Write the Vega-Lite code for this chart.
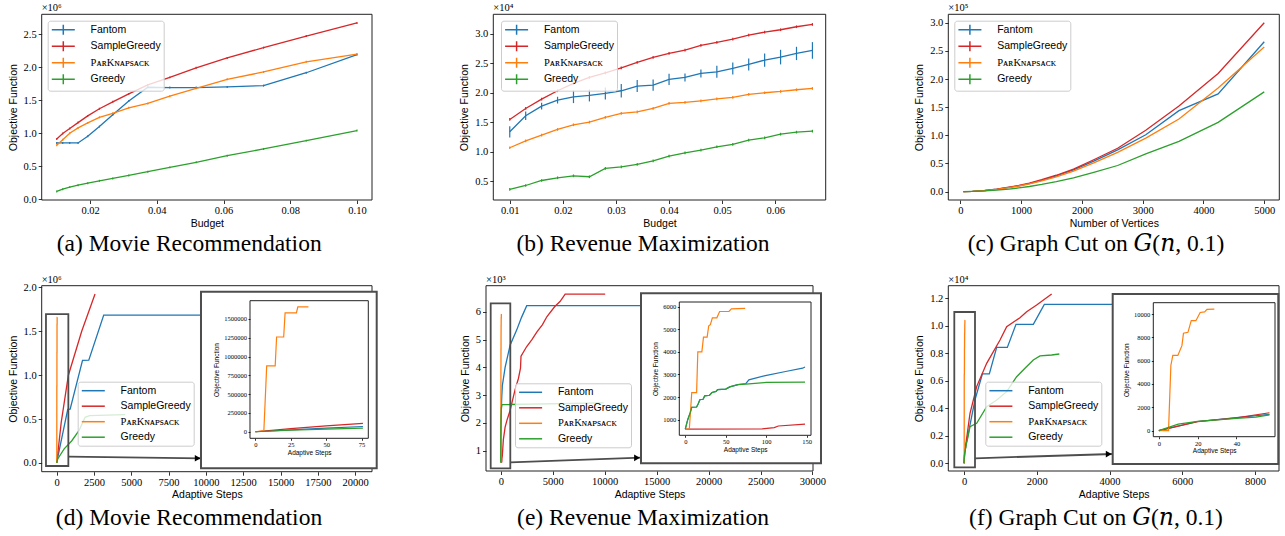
{
"$schema":"https://vega.github.io/schema/vega-lite/v6.json",
"width":1285,"height":536,"autosize":{"type":"none"},"padding":0,
"background":"#ffffff",
"datasets":{
"a":[
{"series":"Fantom","x":0.01,"y":852000,"err":15000},{"series":"Fantom","x":0.0118,"y":852000,"err":15000},{"series":"Fantom","x":0.0139,"y":852000,"err":15000},{"series":"Fantom","x":0.0164,"y":852000,"err":15000},{"series":"Fantom","x":0.0193,"y":953000,"err":15000},{"series":"Fantom","x":0.0228,"y":1100000,"err":15000},{"series":"Fantom","x":0.0268,"y":1278000,"err":15000},{"series":"Fantom","x":0.0316,"y":1486000,"err":15000},{"series":"Fantom","x":0.0373,"y":1695000,"err":15000},{"series":"Fantom","x":0.0439,"y":1690000,"err":15000},{"series":"Fantom","x":0.0518,"y":1690000,"err":15000},{"series":"Fantom","x":0.0611,"y":1700000,"err":15000},{"series":"Fantom","x":0.072,"y":1720000,"err":15000},{"series":"Fantom","x":0.0848,"y":1915000,"err":15000},{"series":"Fantom","x":0.1,"y":2190000,"err":15000},
{"series":"SampleGreedy","x":0.01,"y":913000,"err":15000},{"series":"SampleGreedy","x":0.0118,"y":995000,"err":15000},{"series":"SampleGreedy","x":0.0139,"y":1070000,"err":15000},{"series":"SampleGreedy","x":0.0164,"y":1160000,"err":15000},{"series":"SampleGreedy","x":0.0193,"y":1262000,"err":15000},{"series":"SampleGreedy","x":0.0228,"y":1370000,"err":15000},{"series":"SampleGreedy","x":0.0268,"y":1475000,"err":15000},{"series":"SampleGreedy","x":0.0316,"y":1595000,"err":15000},{"series":"SampleGreedy","x":0.0373,"y":1730000,"err":15000},{"series":"SampleGreedy","x":0.0439,"y":1845000,"err":15000},{"series":"SampleGreedy","x":0.0518,"y":1990000,"err":15000},{"series":"SampleGreedy","x":0.0611,"y":2140000,"err":15000},{"series":"SampleGreedy","x":0.072,"y":2295000,"err":15000},{"series":"SampleGreedy","x":0.0848,"y":2470000,"err":15000},{"series":"SampleGreedy","x":0.1,"y":2670000,"err":15000},
{"series":"PᴀʀKɴᴀᴘsᴀᴄᴋ","x":0.01,"y":816000,"err":15000},{"series":"PᴀʀKɴᴀᴘsᴀᴄᴋ","x":0.0118,"y":900000,"err":15000},{"series":"PᴀʀKɴᴀᴘsᴀᴄᴋ","x":0.0139,"y":1000000,"err":15000},{"series":"PᴀʀKɴᴀᴘsᴀᴄᴋ","x":0.0164,"y":1080000,"err":15000},{"series":"PᴀʀKɴᴀᴘsᴀᴄᴋ","x":0.0193,"y":1156000,"err":15000},{"series":"PᴀʀKɴᴀᴘsᴀᴄᴋ","x":0.0228,"y":1240000,"err":15000},{"series":"PᴀʀKɴᴀᴘsᴀᴄᴋ","x":0.0268,"y":1300000,"err":15000},{"series":"PᴀʀKɴᴀᴘsᴀᴄᴋ","x":0.0316,"y":1384000,"err":15000},{"series":"PᴀʀKɴᴀᴘsᴀᴄᴋ","x":0.0373,"y":1450000,"err":15000},{"series":"PᴀʀKɴᴀᴘsᴀᴄᴋ","x":0.0439,"y":1560000,"err":15000},{"series":"PᴀʀKɴᴀᴘsᴀᴄᴋ","x":0.0518,"y":1680000,"err":15000},{"series":"PᴀʀKɴᴀᴘsᴀᴄᴋ","x":0.0611,"y":1815000,"err":15000},{"series":"PᴀʀKɴᴀᴘsᴀᴄᴋ","x":0.072,"y":1927000,"err":15000},{"series":"PᴀʀKɴᴀᴘsᴀᴄᴋ","x":0.0848,"y":2080000,"err":15000},{"series":"PᴀʀKɴᴀᴘsᴀᴄᴋ","x":0.1,"y":2196000,"err":15000},
{"series":"Greedy","x":0.01,"y":117000,"err":15000},{"series":"Greedy","x":0.0118,"y":152000,"err":15000},{"series":"Greedy","x":0.0139,"y":183000,"err":15000},{"series":"Greedy","x":0.0164,"y":213000,"err":15000},{"series":"Greedy","x":0.0193,"y":243000,"err":15000},{"series":"Greedy","x":0.0228,"y":279000,"err":15000},{"series":"Greedy","x":0.0268,"y":314000,"err":15000},{"series":"Greedy","x":0.0316,"y":360000,"err":15000},{"series":"Greedy","x":0.0373,"y":416000,"err":15000},{"series":"Greedy","x":0.0439,"y":482000,"err":15000},{"series":"Greedy","x":0.0518,"y":558000,"err":15000},{"series":"Greedy","x":0.0611,"y":659000,"err":15000},{"series":"Greedy","x":0.072,"y":761000,"err":15000},{"series":"Greedy","x":0.0848,"y":887000,"err":15000},{"series":"Greedy","x":0.1,"y":1040000,"err":15000}
],
"b":[
{"series":"Fantom","x":0.010,"y":13370,"err":960},{"series":"Fantom","x":0.013,"y":16090,"err":740},{"series":"Fantom","x":0.016,"y":17730,"err":570},{"series":"Fantom","x":0.019,"y":18740,"err":570},{"series":"Fantom","x":0.022,"y":19310,"err":1070},{"series":"Fantom","x":0.025,"y":19540,"err":1020},{"series":"Fantom","x":0.028,"y":19880,"err":1020},{"series":"Fantom","x":0.031,"y":20330,"err":1130},{"series":"Fantom","x":0.034,"y":21120,"err":1020},{"series":"Fantom","x":0.037,"y":21290,"err":960},{"series":"Fantom","x":0.040,"y":22250,"err":960},{"series":"Fantom","x":0.043,"y":22590,"err":680},{"series":"Fantom","x":0.046,"y":23270,"err":680},{"series":"Fantom","x":0.049,"y":23550,"err":1020},{"series":"Fantom","x":0.052,"y":24120,"err":1020},{"series":"Fantom","x":0.055,"y":24800,"err":1020},{"series":"Fantom","x":0.058,"y":25530,"err":1130},{"series":"Fantom","x":0.061,"y":26040,"err":1240},{"series":"Fantom","x":0.064,"y":26660,"err":1130},{"series":"Fantom","x":0.067,"y":27170,"err":1410},
{"series":"SampleGreedy","x":0.010,"y":15460,"err":230},{"series":"SampleGreedy","x":0.013,"y":17330,"err":230},{"series":"SampleGreedy","x":0.016,"y":18910,"err":230},{"series":"SampleGreedy","x":0.019,"y":20330,"err":230},{"series":"SampleGreedy","x":0.022,"y":21570,"err":230},{"series":"SampleGreedy","x":0.025,"y":22590,"err":230},{"series":"SampleGreedy","x":0.028,"y":23380,"err":230},{"series":"SampleGreedy","x":0.031,"y":24230,"err":230},{"series":"SampleGreedy","x":0.034,"y":25140,"err":230},{"series":"SampleGreedy","x":0.037,"y":25980,"err":230},{"series":"SampleGreedy","x":0.040,"y":26660,"err":230},{"series":"SampleGreedy","x":0.043,"y":27230,"err":230},{"series":"SampleGreedy","x":0.046,"y":28020,"err":230},{"series":"SampleGreedy","x":0.049,"y":28530,"err":230},{"series":"SampleGreedy","x":0.052,"y":29100,"err":230},{"series":"SampleGreedy","x":0.055,"y":29770,"err":230},{"series":"SampleGreedy","x":0.058,"y":30280,"err":230},{"series":"SampleGreedy","x":0.061,"y":30680,"err":230},{"series":"SampleGreedy","x":0.064,"y":31190,"err":230},{"series":"SampleGreedy","x":0.067,"y":31580,"err":230},
{"series":"PᴀʀKɴᴀᴘsᴀᴄᴋ","x":0.010,"y":10660,"err":230},{"series":"PᴀʀKɴᴀᴘsᴀᴄᴋ","x":0.013,"y":11840,"err":230},{"series":"PᴀʀKɴᴀᴘsᴀᴄᴋ","x":0.016,"y":12800,"err":230},{"series":"PᴀʀKɴᴀᴘsᴀᴄᴋ","x":0.019,"y":13770,"err":230},{"series":"PᴀʀKɴᴀᴘsᴀᴄᴋ","x":0.022,"y":14560,"err":230},{"series":"PᴀʀKɴᴀᴘsᴀᴄᴋ","x":0.025,"y":15010,"err":230},{"series":"PᴀʀKɴᴀᴘsᴀᴄᴋ","x":0.028,"y":15800,"err":230},{"series":"PᴀʀKɴᴀᴘsᴀᴄᴋ","x":0.031,"y":16480,"err":230},{"series":"PᴀʀKɴᴀᴘsᴀᴄᴋ","x":0.034,"y":16760,"err":230},{"series":"PᴀʀKɴᴀᴘsᴀᴄᴋ","x":0.037,"y":17330,"err":230},{"series":"PᴀʀKɴᴀᴘsᴀᴄᴋ","x":0.040,"y":18180,"err":230},{"series":"PᴀʀKɴᴀᴘsᴀᴄᴋ","x":0.043,"y":18350,"err":230},{"series":"PᴀʀKɴᴀᴘsᴀᴄᴋ","x":0.046,"y":18630,"err":230},{"series":"PᴀʀKɴᴀᴘsᴀᴄᴋ","x":0.049,"y":18970,"err":230},{"series":"PᴀʀKɴᴀᴘsᴀᴄᴋ","x":0.052,"y":19200,"err":230},{"series":"PᴀʀKɴᴀᴘsᴀᴄᴋ","x":0.055,"y":19710,"err":230},{"series":"PᴀʀKɴᴀᴘsᴀᴄᴋ","x":0.058,"y":19990,"err":230},{"series":"PᴀʀKɴᴀᴘsᴀᴄᴋ","x":0.061,"y":20210,"err":230},{"series":"PᴀʀKɴᴀᴘsᴀᴄᴋ","x":0.064,"y":20500,"err":230},{"series":"PᴀʀKɴᴀᴘsᴀᴄᴋ","x":0.067,"y":20720,"err":230},
{"series":"Greedy","x":0.010,"y":3590,"err":230},{"series":"Greedy","x":0.013,"y":4260,"err":230},{"series":"Greedy","x":0.016,"y":5110,"err":230},{"series":"Greedy","x":0.019,"y":5570,"err":230},{"series":"Greedy","x":0.022,"y":5900,"err":230},{"series":"Greedy","x":0.025,"y":5740,"err":230},{"series":"Greedy","x":0.028,"y":7150,"err":230},{"series":"Greedy","x":0.031,"y":7430,"err":230},{"series":"Greedy","x":0.034,"y":7830,"err":230},{"series":"Greedy","x":0.037,"y":8450,"err":230},{"series":"Greedy","x":0.040,"y":9240,"err":230},{"series":"Greedy","x":0.043,"y":9810,"err":230},{"series":"Greedy","x":0.046,"y":10260,"err":230},{"series":"Greedy","x":0.049,"y":10830,"err":230},{"series":"Greedy","x":0.052,"y":11220,"err":230},{"series":"Greedy","x":0.055,"y":11960,"err":230},{"series":"Greedy","x":0.058,"y":12350,"err":230},{"series":"Greedy","x":0.061,"y":12970,"err":230},{"series":"Greedy","x":0.064,"y":13310,"err":230},{"series":"Greedy","x":0.067,"y":13480,"err":230}
],
"c":[
{"series":"Fantom","x":50,"y":30},{"series":"Fantom","x":200,"y":460},{"series":"Fantom","x":400,"y":1800},{"series":"Fantom","x":600,"y":4100},{"series":"Fantom","x":800,"y":7300},{"series":"Fantom","x":963,"y":10300},{"series":"Fantom","x":1136,"y":14300},{"series":"Fantom","x":1339,"y":20000},{"series":"Fantom","x":1579,"y":27800},{"series":"Fantom","x":1862,"y":38500},{"series":"Fantom","x":2195,"y":54000},{"series":"Fantom","x":2588,"y":74000},{"series":"Fantom","x":3051,"y":101000},{"series":"Fantom","x":3597,"y":143800},{"series":"Fantom","x":4241,"y":173500},{"series":"Fantom","x":5000,"y":266200},
{"series":"SampleGreedy","x":50,"y":30},{"series":"SampleGreedy","x":200,"y":480},{"series":"SampleGreedy","x":400,"y":1900},{"series":"SampleGreedy","x":600,"y":4300},{"series":"SampleGreedy","x":800,"y":7700},{"series":"SampleGreedy","x":963,"y":10800},{"series":"SampleGreedy","x":1136,"y":15000},{"series":"SampleGreedy","x":1339,"y":21000},{"series":"SampleGreedy","x":1579,"y":29000},{"series":"SampleGreedy","x":1862,"y":40000},{"series":"SampleGreedy","x":2195,"y":56500},{"series":"SampleGreedy","x":2588,"y":77000},{"series":"SampleGreedy","x":3051,"y":109000},{"series":"SampleGreedy","x":3597,"y":152000},{"series":"SampleGreedy","x":4241,"y":209700},{"series":"SampleGreedy","x":5000,"y":300000},
{"series":"PᴀʀKɴᴀᴘsᴀᴄᴋ","x":50,"y":30},{"series":"PᴀʀKɴᴀᴘsᴀᴄᴋ","x":200,"y":440},{"series":"PᴀʀKɴᴀᴘsᴀᴄᴋ","x":400,"y":1750},{"series":"PᴀʀKɴᴀᴘsᴀᴄᴋ","x":600,"y":3900},{"series":"PᴀʀKɴᴀᴘsᴀᴄᴋ","x":800,"y":7000},{"series":"PᴀʀKɴᴀᴘsᴀᴄᴋ","x":963,"y":9900},{"series":"PᴀʀKɴᴀᴘsᴀᴄᴋ","x":1136,"y":13700},{"series":"PᴀʀKɴᴀᴘsᴀᴄᴋ","x":1339,"y":19000},{"series":"PᴀʀKɴᴀᴘsᴀᴄᴋ","x":1579,"y":26300},{"series":"PᴀʀKɴᴀᴘsᴀᴄᴋ","x":1862,"y":36500},{"series":"PᴀʀKɴᴀᴘsᴀᴄᴋ","x":2195,"y":51000},{"series":"PᴀʀKɴᴀᴘsᴀᴄᴋ","x":2588,"y":69500},{"series":"PᴀʀKɴᴀᴘsᴀᴄᴋ","x":3051,"y":95000},{"series":"PᴀʀKɴᴀᴘsᴀᴄᴋ","x":3597,"y":129000},{"series":"PᴀʀKɴᴀᴘsᴀᴄᴋ","x":4241,"y":184200},{"series":"PᴀʀKɴᴀᴘsᴀᴄᴋ","x":5000,"y":256700},
{"series":"Greedy","x":50,"y":20},{"series":"Greedy","x":200,"y":280},{"series":"Greedy","x":400,"y":1100},{"series":"Greedy","x":600,"y":2500},{"series":"Greedy","x":800,"y":4500},{"series":"Greedy","x":963,"y":6500},{"series":"Greedy","x":1136,"y":9000},{"series":"Greedy","x":1339,"y":12700},{"series":"Greedy","x":1579,"y":17700},{"series":"Greedy","x":1862,"y":24500},{"series":"Greedy","x":2195,"y":34100},{"series":"Greedy","x":2588,"y":46300},{"series":"Greedy","x":3051,"y":67100},{"series":"Greedy","x":3597,"y":89100},{"series":"Greedy","x":4241,"y":123000},{"series":"Greedy","x":5000,"y":177100}
],
"d":[
{"series":"Fantom","x":0,"y":0},{"series":"Fantom","x":25,"y":25000},{"series":"Fantom","x":50,"y":47000},{"series":"Fantom","x":76,"y":70000},{"series":"Fantom","x":740,"y":610000},{"series":"Fantom","x":900,"y":612000},{"series":"Fantom","x":1730,"y":1170000},{"series":"Fantom","x":2150,"y":1172000},{"series":"Fantom","x":3150,"y":1685000},{"series":"Fantom","x":20124,"y":1685000},
{"series":"SampleGreedy","x":0,"y":0},{"series":"SampleGreedy","x":25,"y":42000},{"series":"SampleGreedy","x":50,"y":78000},{"series":"SampleGreedy","x":76,"y":111000},{"series":"SampleGreedy","x":300,"y":460000},{"series":"SampleGreedy","x":782,"y":1000000},{"series":"SampleGreedy","x":1675,"y":1500000},{"series":"SampleGreedy","x":2569,"y":1925000},
{"series":"PᴀʀKɴᴀᴘsᴀᴄᴋ","x":0,"y":0},{"series":"PᴀʀKɴᴀᴘsᴀᴄᴋ","x":6,"y":15000},{"series":"PᴀʀKɴᴀᴘsᴀᴄᴋ","x":8,"y":875000},{"series":"PᴀʀKɴᴀᴘsᴀᴄᴋ","x":14,"y":875000},{"series":"PᴀʀKɴᴀᴘsᴀᴄᴋ","x":15,"y":1260000},{"series":"PᴀʀKɴᴀᴘsᴀᴄᴋ","x":20,"y":1260000},{"series":"PᴀʀKɴᴀᴘsᴀᴄᴋ","x":21,"y":1580000},{"series":"PᴀʀKɴᴀᴘsᴀᴄᴋ","x":29,"y":1580000},{"series":"PᴀʀKɴᴀᴘsᴀᴄᴋ","x":30,"y":1660000},{"series":"PᴀʀKɴᴀᴘsᴀᴄᴋ","x":37.5,"y":1660000},
{"series":"Greedy","x":0,"y":0},{"series":"Greedy","x":25,"y":20000},{"series":"Greedy","x":50,"y":35000},{"series":"Greedy","x":76,"y":48000},{"series":"Greedy","x":500,"y":160000},{"series":"Greedy","x":1000,"y":250000},{"series":"Greedy","x":1500,"y":370000},{"series":"Greedy","x":1900,"y":520000},{"series":"Greedy","x":2200,"y":540000},{"series":"Greedy","x":4580,"y":550000}
],
"e":[
{"series":"Fantom","x":0,"y":580},{"series":"Fantom","x":3,"y":1000},{"series":"Fantom","x":6,"y":1300},{"series":"Fantom","x":8,"y":1550},{"series":"Fantom","x":14,"y":1560},{"series":"Fantom","x":16,"y":1700},{"series":"Fantom","x":18,"y":1880},{"series":"Fantom","x":22,"y":1900},{"series":"Fantom","x":24,"y":2050},{"series":"Fantom","x":30,"y":2080},{"series":"Fantom","x":33,"y":2200},{"series":"Fantom","x":38,"y":2250},{"series":"Fantom","x":40,"y":2330},{"series":"Fantom","x":50,"y":2350},{"series":"Fantom","x":55,"y":2450},{"series":"Fantom","x":65,"y":2550},{"series":"Fantom","x":75,"y":2600},{"series":"Fantom","x":78.6,"y":2760},{"series":"Fantom","x":99,"y":2950},{"series":"Fantom","x":124,"y":3130},{"series":"Fantom","x":145,"y":3276},{"series":"Fantom","x":148,"y":3330},{"series":"Fantom","x":420,"y":4000},{"series":"Fantom","x":900,"y":4800},{"series":"Fantom","x":1540,"y":5350},{"series":"Fantom","x":2000,"y":5800},{"series":"Fantom","x":2500,"y":6220},{"series":"Fantom","x":28300,"y":6220},
{"series":"SampleGreedy","x":0,"y":580},{"series":"SampleGreedy","x":95,"y":590},{"series":"SampleGreedy","x":110,"y":650},{"series":"SampleGreedy","x":115,"y":720},{"series":"SampleGreedy","x":148,"y":800},{"series":"SampleGreedy","x":250,"y":1400},{"series":"SampleGreedy","x":420,"y":1850},{"series":"SampleGreedy","x":600,"y":2100},{"series":"SampleGreedy","x":900,"y":2450},{"series":"SampleGreedy","x":1380,"y":3200},{"series":"SampleGreedy","x":1700,"y":3600},{"series":"SampleGreedy","x":1900,"y":3970},{"series":"SampleGreedy","x":1950,"y":4400},{"series":"SampleGreedy","x":2500,"y":4750},{"series":"SampleGreedy","x":3000,"y":5000},{"series":"SampleGreedy","x":3500,"y":5290},{"series":"SampleGreedy","x":4000,"y":5530},{"series":"SampleGreedy","x":4450,"y":5830},{"series":"SampleGreedy","x":5200,"y":6190},{"series":"SampleGreedy","x":5700,"y":6370},{"series":"SampleGreedy","x":6200,"y":6640},{"series":"SampleGreedy","x":10050,"y":6640},
{"series":"PᴀʀKɴᴀᴘsᴀᴄᴋ","x":0,"y":580},{"series":"PᴀʀKɴᴀᴘsᴀᴄᴋ","x":5,"y":590},{"series":"PᴀʀKɴᴀᴘsᴀᴄᴋ","x":8,"y":2200},{"series":"PᴀʀKɴᴀᴘsᴀᴄᴋ","x":14,"y":2200},{"series":"PᴀʀKɴᴀᴘsᴀᴄᴋ","x":15.5,"y":4000},{"series":"PᴀʀKɴᴀᴘsᴀᴄᴋ","x":20.5,"y":4000},{"series":"PᴀʀKɴᴀᴘsᴀᴄᴋ","x":22.5,"y":4650},{"series":"PᴀʀKɴᴀᴘsᴀᴄᴋ","x":27,"y":4650},{"series":"PᴀʀKɴᴀᴘsᴀᴄᴋ","x":29,"y":5150},{"series":"PᴀʀKɴᴀᴘsᴀᴄᴋ","x":31,"y":5200},{"series":"PᴀʀKɴᴀᴘsᴀᴄᴋ","x":33.5,"y":5500},{"series":"PᴀʀKɴᴀᴘsᴀᴄᴋ","x":39,"y":5500},{"series":"PᴀʀKɴᴀᴘsᴀᴄᴋ","x":42.5,"y":5780},{"series":"PᴀʀKɴᴀᴘsᴀᴄᴋ","x":54,"y":5780},{"series":"PᴀʀKɴᴀᴘsᴀᴄᴋ","x":57,"y":5900},{"series":"PᴀʀKɴᴀᴘsᴀᴄᴋ","x":74,"y":5920},
{"series":"Greedy","x":0,"y":580},{"series":"Greedy","x":3,"y":1000},{"series":"Greedy","x":6,"y":1300},{"series":"Greedy","x":8,"y":1550},{"series":"Greedy","x":14,"y":1560},{"series":"Greedy","x":16,"y":1700},{"series":"Greedy","x":18,"y":1880},{"series":"Greedy","x":22,"y":1900},{"series":"Greedy","x":24,"y":2050},{"series":"Greedy","x":30,"y":2080},{"series":"Greedy","x":33,"y":2200},{"series":"Greedy","x":38,"y":2250},{"series":"Greedy","x":40,"y":2330},{"series":"Greedy","x":50,"y":2350},{"series":"Greedy","x":55,"y":2450},{"series":"Greedy","x":65,"y":2550},{"series":"Greedy","x":75,"y":2570},{"series":"Greedy","x":100,"y":2645},{"series":"Greedy","x":148,"y":2660},{"series":"Greedy","x":9900,"y":2720}
],
"f":[
{"series":"Fantom","x":0,"y":0},{"series":"Fantom","x":20,"y":780},{"series":"Fantom","x":40,"y":1120},{"series":"Fantom","x":57,"y":1400},{"series":"Fantom","x":120,"y":2200},{"series":"Fantom","x":300,"y":4600},{"series":"Fantom","x":504,"y":6500},{"series":"Fantom","x":696,"y":6500},{"series":"Fantom","x":898,"y":8430},{"series":"Fantom","x":1191,"y":8430},{"series":"Fantom","x":1429,"y":10110},{"series":"Fantom","x":1906,"y":10110},{"series":"Fantom","x":2208,"y":11560},{"series":"Fantom","x":8250,"y":11560},
{"series":"SampleGreedy","x":0,"y":0},{"series":"SampleGreedy","x":20,"y":770},{"series":"SampleGreedy","x":40,"y":1100},{"series":"SampleGreedy","x":57,"y":1530},{"series":"SampleGreedy","x":165,"y":3640},{"series":"SampleGreedy","x":348,"y":5580},{"series":"SampleGreedy","x":623,"y":7270},{"series":"SampleGreedy","x":990,"y":8970},{"series":"SampleGreedy","x":1173,"y":9940},{"series":"SampleGreedy","x":1539,"y":10590},{"series":"SampleGreedy","x":1722,"y":11030},{"series":"SampleGreedy","x":1997,"y":11510},{"series":"SampleGreedy","x":2410,"y":12310},
{"series":"PᴀʀKɴᴀᴘsᴀᴄᴋ","x":0,"y":0},{"series":"PᴀʀKɴᴀᴘsᴀᴄᴋ","x":5,"y":0},{"series":"PᴀʀKɴᴀᴘsᴀᴄᴋ","x":6.2,"y":5590},{"series":"PᴀʀKɴᴀᴘsᴀᴄᴋ","x":7.2,"y":6450},{"series":"PᴀʀKɴᴀᴘsᴀᴄᴋ","x":9.8,"y":6450},{"series":"PᴀʀKɴᴀᴘsᴀᴄᴋ","x":11.9,"y":7290},{"series":"PᴀʀKɴᴀᴘsᴀᴄᴋ","x":12.7,"y":8350},{"series":"PᴀʀKɴᴀᴘsᴀᴄᴋ","x":15,"y":8430},{"series":"PᴀʀKɴᴀᴘsᴀᴄᴋ","x":16.7,"y":9430},{"series":"PᴀʀKɴᴀᴘsᴀᴄᴋ","x":19.1,"y":9430},{"series":"PᴀʀKɴᴀᴘsᴀᴄᴋ","x":21.3,"y":10130},{"series":"PᴀʀKɴᴀᴘsᴀᴄᴋ","x":23.6,"y":10190},{"series":"PᴀʀKɴᴀᴘsᴀᴄᴋ","x":24.8,"y":10400},{"series":"PᴀʀKɴᴀᴘsᴀᴄᴋ","x":28.6,"y":10420},
{"series":"Greedy","x":0,"y":0},{"series":"Greedy","x":10,"y":550},{"series":"Greedy","x":20,"y":800},{"series":"Greedy","x":40,"y":1050},{"series":"Greedy","x":50,"y":1150},{"series":"Greedy","x":57,"y":1350},{"series":"Greedy","x":92,"y":1700},{"series":"Greedy","x":165,"y":2670},{"series":"Greedy","x":348,"y":2910},{"series":"Greedy","x":623,"y":4120},{"series":"Greedy","x":900,"y":4600},{"series":"Greedy","x":1173,"y":5210},{"series":"Greedy","x":1447,"y":6300},{"series":"Greedy","x":1676,"y":6910},{"series":"Greedy","x":1905,"y":7520},{"series":"Greedy","x":2089,"y":7810},{"series":"Greedy","x":2410,"y":7880},{"series":"Greedy","x":2620,"y":7950}
],
"one":[{}]
},
"layer":[
{"data":{"name":"a"},"mark":{"type":"line","strokeWidth":1.3},"encoding":{
 "x":{"field":"x","type":"quantitative","scale":{"domain":[0.0055,0.1045],"range":[41.7,372],"nice":false,"zero":false},"axis":{"orient":"bottom","offset":-336,"values":[0.02,0.04,0.06,0.08,0.1],"format":".2f","title":"Budget"}},
 "y":{"field":"y","type":"quantitative","scale":{"domain":[-12000,2800000],"range":[200,14.3],"nice":false,"zero":false},"axis":{"orient":"left","offset":-41.7,"values":[0,500000,1000000,1500000,2000000,2500000],"labelExpr":"format(datum.value/1e6,'.1f')","title":"Objective Function","titlePadding":5}},
 "color":{"field":"series","type":"nominal","scale":{"domain":["Fantom","SampleGreedy","PᴀʀKɴᴀᴘsᴀᴄᴋ","Greedy"],"range":["#1f77b4","#d62728","#ff7f0e","#2ca02c"]},"legend":{"orient":"none","legendX":47.7,"legendY":20.7,"title":null,"direction":"vertical","symbolType":"M-2.3,0H2.3M0,-1V1","rowPadding":0.5,"zindex":1,"encode":{"labels":{"update":{"font":{"signal":"datum.label === 'PᴀʀKɴᴀᴘsᴀᴄᴋ' ? 'Liberation Serif, DejaVu Serif' : 'Liberation Sans, DejaVu Sans'"}}}}}}}},
{"data":{"name":"a"},"mark":{"type":"errorbar","thickness":1.2},"encoding":{
 "x":{"field":"x","type":"quantitative","scale":{"domain":[0.0055,0.1045],"range":[41.7,372],"nice":false,"zero":false},"axis":null},
 "y":{"field":"y","type":"quantitative","scale":{"domain":[-12000,2800000],"range":[200,14.3],"nice":false,"zero":false},"axis":null},
 "yError":{"field":"err"},
 "color":{"field":"series","type":"nominal","scale":{"domain":["Fantom","SampleGreedy","PᴀʀKɴᴀᴘsᴀᴄᴋ","Greedy"],"range":["#1f77b4","#d62728","#ff7f0e","#2ca02c"]},"legend":null}}},
{"data":{"name":"one"},"mark":{"type":"rect","filled":false,"stroke":"#222222","strokeWidth":1},"encoding":{
 "x":{"datum":0.0055,"type":"quantitative","scale":{"domain":[0.0055,0.1045],"range":[41.7,372],"nice":false,"zero":false},"axis":null},"x2":{"datum":0.1045},
 "y":{"datum":-12000,"type":"quantitative","scale":{"domain":[-12000,2800000],"range":[200,14.3],"nice":false,"zero":false},"axis":null},"y2":{"datum":2800000}}},
{"data":{"name":"one"},"mark":{"type":"text","text":"×10⁶","align":"left","baseline":"bottom","dy":-1,"font":"Liberation Serif, DejaVu Serif","fontSize":10.5},"encoding":{
 "x":{"datum":0.0055,"type":"quantitative","scale":{"domain":[0.0055,0.1045],"range":[41.7,372],"nice":false,"zero":false},"axis":null},
 "y":{"datum":2800000,"type":"quantitative","scale":{"domain":[-12000,2800000],"range":[200,14.3],"nice":false,"zero":false},"axis":null}}},
{"data":{"name":"one"},"mark":{"type":"text","text":"(a) Movie Recommendation","align":"center","baseline":"alphabetic","dy":51,"font":"Liberation Serif","fontSize":23.5},"encoding":{
 "x":{"datum":0.0497,"type":"quantitative","scale":{"domain":[0.0055,0.1045],"range":[41.7,372],"nice":false,"zero":false},"axis":null},
 "y":{"datum":-12000,"type":"quantitative","scale":{"domain":[-12000,2800000],"range":[200,14.3],"nice":false,"zero":false},"axis":null}}},

{"data":{"name":"b"},"mark":{"type":"line","strokeWidth":1.3},"encoding":{
 "x":{"field":"x","type":"quantitative","scale":{"domain":[0.0069,0.0695],"range":[493.3,825.7],"nice":false,"zero":false},"axis":{"orient":"bottom","offset":-336,"values":[0.01,0.02,0.03,0.04,0.05,0.06],"format":".2f","title":"Budget"}},
 "y":{"field":"y","type":"quantitative","scale":{"domain":[1800,33300],"range":[200,14.3],"nice":false,"zero":false},"axis":{"orient":"left","offset":-493.3,"values":[5000,10000,15000,20000,25000,30000],"labelExpr":"format(datum.value/1e4,'.1f')","title":"Objective Function","titlePadding":5}},
 "color":{"field":"series","type":"nominal","scale":{"domain":["Fantom","SampleGreedy","PᴀʀKɴᴀᴘsᴀᴄᴋ","Greedy"],"range":["#1f77b4","#d62728","#ff7f0e","#2ca02c"]},"legend":{"orient":"none","legendX":501,"legendY":20.7,"title":null,"direction":"vertical","symbolType":"M-2.3,0H2.3M0,-1V1","rowPadding":0.5,"zindex":1,"encode":{"labels":{"update":{"font":{"signal":"datum.label === 'PᴀʀKɴᴀᴘsᴀᴄᴋ' ? 'Liberation Serif, DejaVu Serif' : 'Liberation Sans, DejaVu Sans'"}}}}}}}},
{"data":{"name":"b"},"mark":{"type":"errorbar","thickness":1.2},"encoding":{
 "x":{"field":"x","type":"quantitative","scale":{"domain":[0.0069,0.0695],"range":[493.3,825.7],"nice":false,"zero":false},"axis":null},
 "y":{"field":"y","type":"quantitative","scale":{"domain":[1800,33300],"range":[200,14.3],"nice":false,"zero":false},"axis":null},
 "yError":{"field":"err"},
 "color":{"field":"series","type":"nominal","scale":{"domain":["Fantom","SampleGreedy","PᴀʀKɴᴀᴘsᴀᴄᴋ","Greedy"],"range":["#1f77b4","#d62728","#ff7f0e","#2ca02c"]},"legend":null}}},
{"data":{"name":"one"},"mark":{"type":"rect","filled":false,"stroke":"#222222","strokeWidth":1},"encoding":{
 "x":{"datum":0.0069,"type":"quantitative","scale":{"domain":[0.0069,0.0695],"range":[493.3,825.7],"nice":false,"zero":false},"axis":null},"x2":{"datum":0.0695},
 "y":{"datum":1800,"type":"quantitative","scale":{"domain":[1800,33300],"range":[200,14.3],"nice":false,"zero":false},"axis":null},"y2":{"datum":33300}}},
{"data":{"name":"one"},"mark":{"type":"text","text":"×10⁴","align":"left","baseline":"bottom","dy":-1,"font":"Liberation Serif, DejaVu Serif","fontSize":10.5},"encoding":{
 "x":{"datum":0.0069,"type":"quantitative","scale":{"domain":[0.0069,0.0695],"range":[493.3,825.7],"nice":false,"zero":false},"axis":null},
 "y":{"datum":33300,"type":"quantitative","scale":{"domain":[1800,33300],"range":[200,14.3],"nice":false,"zero":false},"axis":null}}},
{"data":{"name":"one"},"mark":{"type":"text","text":"(b) Revenue Maximization","align":"center","baseline":"alphabetic","dy":51,"font":"Liberation Serif","fontSize":23.5},"encoding":{
 "x":{"datum":0.03509,"type":"quantitative","scale":{"domain":[0.0069,0.0695],"range":[493.3,825.7],"nice":false,"zero":false},"axis":null},
 "y":{"datum":1800,"type":"quantitative","scale":{"domain":[1800,33300],"range":[200,14.3],"nice":false,"zero":false},"axis":null}}},

{"data":{"name":"c"},"mark":{"type":"line","strokeWidth":1.3},"encoding":{
 "x":{"field":"x","type":"quantitative","scale":{"domain":[-197.5,5247.5],"range":[948.3,1279.3],"nice":false,"zero":false},"axis":{"orient":"bottom","offset":-336,"values":[0,1000,2000,3000,4000,5000],"format":"d","title":"Number of Vertices"}},
 "y":{"field":"y","type":"quantitative","scale":{"domain":[-15000,315000],"range":[200,14.3],"nice":false,"zero":false},"axis":{"orient":"left","offset":-948.3,"values":[0,50000,100000,150000,200000,250000,300000],"labelExpr":"format(datum.value/1e5,'.1f')","title":"Objective Function","titlePadding":5}},
 "color":{"field":"series","type":"nominal","scale":{"domain":["Fantom","SampleGreedy","PᴀʀKɴᴀᴘsᴀᴄᴋ","Greedy"],"range":["#1f77b4","#d62728","#ff7f0e","#2ca02c"]},"legend":{"orient":"none","legendX":954.3,"legendY":20.7,"title":null,"direction":"vertical","symbolType":"M-2.3,0H2.3M0,-1V1","rowPadding":0.5,"zindex":1,"encode":{"labels":{"update":{"font":{"signal":"datum.label === 'PᴀʀKɴᴀᴘsᴀᴄᴋ' ? 'Liberation Serif, DejaVu Serif' : 'Liberation Sans, DejaVu Sans'"}}}}}}}},
{"data":{"name":"one"},"mark":{"type":"rect","filled":false,"stroke":"#222222","strokeWidth":1},"encoding":{
 "x":{"datum":-197.5,"type":"quantitative","scale":{"domain":[-197.5,5247.5],"range":[948.3,1279.3],"nice":false,"zero":false},"axis":null},"x2":{"datum":5247.5},
 "y":{"datum":-15000,"type":"quantitative","scale":{"domain":[-15000,315000],"range":[200,14.3],"nice":false,"zero":false},"axis":null},"y2":{"datum":315000}}},
{"data":{"name":"one"},"mark":{"type":"text","text":"×10⁵","align":"left","baseline":"bottom","dy":-1,"font":"Liberation Serif, DejaVu Serif","fontSize":10.5},"encoding":{
 "x":{"datum":-197.5,"type":"quantitative","scale":{"domain":[-197.5,5247.5],"range":[948.3,1279.3],"nice":false,"zero":false},"axis":null},
 "y":{"datum":315000,"type":"quantitative","scale":{"domain":[-15000,315000],"range":[200,14.3],"nice":false,"zero":false},"axis":null}}},
{"data":{"name":"one"},"mark":{"type":"text","text":"(c) Graph Cut on 𝐺(𝑛, 0.1)","align":"center","baseline":"alphabetic","dy":51,"font":"Liberation Serif, DejaVu Serif","fontSize":23.5},"encoding":{
 "x":{"datum":2232,"type":"quantitative","scale":{"domain":[-197.5,5247.5],"range":[948.3,1279.3],"nice":false,"zero":false},"axis":null},
 "y":{"datum":-15000,"type":"quantitative","scale":{"domain":[-15000,315000],"range":[200,14.3],"nice":false,"zero":false},"axis":null}}},

{"data":{"name":"d"},"mark":{"type":"line","strokeWidth":1.3},"encoding":{
 "x":{"field":"x","type":"quantitative","scale":{"domain":[-1006,21130],"range":[41.7,372],"nice":false,"zero":false},"axis":{"orient":"bottom","offset":-64.3,"values":[0,2500,5000,7500,10000,12500,15000,17500,20000],"format":"d","title":"Adaptive Steps"}},
 "y":{"field":"y","type":"quantitative","scale":{"domain":[-100000,2020000],"range":[471.7,285.7],"nice":false,"zero":false},"axis":{"orient":"left","offset":-41.7,"values":[0,500000,1000000,1500000,2000000],"labelExpr":"format(datum.value/1e6,'.1f')","title":"Objective Function","titlePadding":5}},
 "color":{"field":"series","type":"nominal","scale":{"domain":["Fantom","SampleGreedy","PᴀʀKɴᴀᴘsᴀᴄᴋ","Greedy"],"range":["#1f77b4","#d62728","#ff7f0e","#2ca02c"]},"legend":{"orient":"none","legendX":77.7,"legendY":381.7,"title":null,"direction":"vertical","symbolType":"M-2.3,0H2.3","zindex":1,"encode":{"labels":{"update":{"font":{"signal":"datum.label === 'PᴀʀKɴᴀᴘsᴀᴄᴋ' ? 'Liberation Serif, DejaVu Serif' : 'Liberation Sans, DejaVu Sans'"}}}}}}}},
{"data":{"name":"one"},"mark":{"type":"rect","filled":false,"stroke":"#222222","strokeWidth":1},"encoding":{
 "x":{"datum":-1006,"type":"quantitative","scale":{"domain":[-1006,21130],"range":[41.7,372],"nice":false,"zero":false},"axis":null},"x2":{"datum":21130},
 "y":{"datum":-100000,"type":"quantitative","scale":{"domain":[-100000,2020000],"range":[471.7,285.7],"nice":false,"zero":false},"axis":null},"y2":{"datum":2020000}}},
{"data":{"name":"one"},"mark":{"type":"rect","filled":false,"stroke":"#4d4d4d","strokeWidth":1.8},"encoding":{
 "x":{"datum":-720,"type":"quantitative","scale":{"domain":[-1006,21130],"range":[41.7,372],"nice":false,"zero":false},"axis":null},"x2":{"datum":780},
 "y":{"datum":-35000,"type":"quantitative","scale":{"domain":[-100000,2020000],"range":[471.7,285.7],"nice":false,"zero":false},"axis":null},"y2":{"datum":1697000}}},
{"data":{"name":"one"},"mark":{"type":"rule","stroke":"#4d4d4d","strokeWidth":1.8},"encoding":{
 "x":{"datum":780,"type":"quantitative","scale":{"domain":[-1006,21130],"range":[41.7,372],"nice":false,"zero":false},"axis":null},"x2":{"datum":9717},
 "y":{"datum":71000,"type":"quantitative","scale":{"domain":[-100000,2020000],"range":[471.7,285.7],"nice":false,"zero":false},"axis":null},"y2":{"datum":52700}}},
{"data":{"name":"one"},"mark":{"type":"point","shape":"triangle-right","filled":true,"color":"#000000","opacity":1,"size":45},"encoding":{
 "x":{"datum":9449,"type":"quantitative","scale":{"domain":[-1006,21130],"range":[41.7,372],"nice":false,"zero":false},"axis":null},
 "y":{"datum":53300,"type":"quantitative","scale":{"domain":[-100000,2020000],"range":[471.7,285.7],"nice":false,"zero":false},"axis":null}}},
{"data":{"name":"one"},"mark":{"type":"text","text":"×10⁶","align":"left","baseline":"bottom","dy":-1,"font":"Liberation Serif, DejaVu Serif","fontSize":10.5},"encoding":{
 "x":{"datum":-1006,"type":"quantitative","scale":{"domain":[-1006,21130],"range":[41.7,372],"nice":false,"zero":false},"axis":null},
 "y":{"datum":2020000,"type":"quantitative","scale":{"domain":[-100000,2020000],"range":[471.7,285.7],"nice":false,"zero":false},"axis":null}}},
{"data":{"name":"one"},"mark":{"type":"text","text":"(d) Movie Recommendation","align":"center","baseline":"alphabetic","dy":53.3,"font":"Liberation Serif","fontSize":23.5},"encoding":{
 "x":{"datum":8866,"type":"quantitative","scale":{"domain":[-1006,21130],"range":[41.7,372],"nice":false,"zero":false},"axis":null},
 "y":{"datum":-100000,"type":"quantitative","scale":{"domain":[-100000,2020000],"range":[471.7,285.7],"nice":false,"zero":false},"axis":null}}},

{"data":{"name":"one"},"mark":{"type":"rect","fill":"#ffffff","stroke":"#4d4d4d","strokeWidth":2},"encoding":{
 "x":{"datum":-38.43,"type":"quantitative","scale":{"domain":[-3.8,79.8],"range":[250,368.3],"nice":false,"zero":false},"axis":null},"x2":{"datum":85.74},
 "y":{"datum":-486000,"type":"quantitative","scale":{"domain":[-87000,1743000],"range":[438.3,300.7],"nice":false,"zero":false},"axis":null},"y2":{"datum":1862700}}},
{"data":{"name":"d"},"transform":[{"filter":{"field":"x","lte":76}}],"mark":{"type":"line","strokeWidth":1.2},"encoding":{
 "x":{"field":"x","type":"quantitative","scale":{"domain":[-3.8,79.8],"range":[250,368.3],"nice":false,"zero":false},"axis":{"orient":"bottom","offset":-97.7,"values":[0,25,50,75],"format":"d","title":"Adaptive Steps","labelFontSize":6.5,"titleFontSize":6.5,"tickSize":2,"labelPadding":1.5,"titlePadding":1,"zindex":1}},
 "y":{"field":"y","type":"quantitative","scale":{"domain":[-87000,1743000],"range":[438.3,300.7],"nice":false,"zero":false},"axis":{"orient":"left","offset":-250,"values":[0,250000,500000,750000,1000000,1250000,1500000],"format":"d","title":"Objective Function","labelFontSize":6.5,"titleFontSize":6.5,"tickSize":2,"labelPadding":1.5,"titlePadding":4,"zindex":1}},
 "color":{"field":"series","type":"nominal","scale":{"domain":["Fantom","SampleGreedy","PᴀʀKɴᴀᴘsᴀᴄᴋ","Greedy"],"range":["#1f77b4","#d62728","#ff7f0e","#2ca02c"]},"legend":null}}},
{"data":{"name":"one"},"mark":{"type":"rect","filled":false,"stroke":"#222222","strokeWidth":1},"encoding":{
 "x":{"datum":-3.8,"type":"quantitative","scale":{"domain":[-3.8,79.8],"range":[250,368.3],"nice":false,"zero":false},"axis":null},"x2":{"datum":79.8},
 "y":{"datum":-87000,"type":"quantitative","scale":{"domain":[-87000,1743000],"range":[438.3,300.7],"nice":false,"zero":false},"axis":null},"y2":{"datum":1743000}}},

{"data":{"name":"e"},"mark":{"type":"line","strokeWidth":1.3},"encoding":{
 "x":{"field":"x","type":"quantitative","scale":{"domain":[-1420,30050],"range":[486,813],"nice":false,"zero":false},"axis":{"orient":"bottom","offset":-65,"values":[0,5000,10000,15000,20000,25000,30000],"format":"d","title":"Adaptive Steps"}},
 "y":{"field":"y","type":"quantitative","scale":{"domain":[270,6940],"range":[471,285.7],"nice":false,"zero":false},"axis":{"orient":"left","offset":-486,"values":[1000,2000,3000,4000,5000,6000],"labelExpr":"format(datum.value/1e3,'d')","title":"Objective Function","titlePadding":5}},
 "color":{"field":"series","type":"nominal","scale":{"domain":["Fantom","SampleGreedy","PᴀʀKɴᴀᴘsᴀᴄᴋ","Greedy"],"range":["#1f77b4","#d62728","#ff7f0e","#2ca02c"]},"legend":{"orient":"none","legendX":515,"legendY":383.3,"title":null,"direction":"vertical","symbolType":"M-2.3,0H2.3","zindex":1,"encode":{"labels":{"update":{"font":{"signal":"datum.label === 'PᴀʀKɴᴀᴘsᴀᴄᴋ' ? 'Liberation Serif, DejaVu Serif' : 'Liberation Sans, DejaVu Sans'"}}}}}}}},
{"data":{"name":"one"},"mark":{"type":"rect","filled":false,"stroke":"#222222","strokeWidth":1},"encoding":{
 "x":{"datum":-1420,"type":"quantitative","scale":{"domain":[-1420,30050],"range":[486,813],"nice":false,"zero":false},"axis":null},"x2":{"datum":30050},
 "y":{"datum":270,"type":"quantitative","scale":{"domain":[270,6940],"range":[471,285.7],"nice":false,"zero":false},"axis":null},"y2":{"datum":6940}}},
{"data":{"name":"one"},"mark":{"type":"rect","filled":false,"stroke":"#4d4d4d","strokeWidth":1.8},"encoding":{
 "x":{"datum":-968,"type":"quantitative","scale":{"domain":[-1420,30050],"range":[486,813],"nice":false,"zero":false},"axis":null},"x2":{"datum":919},
 "y":{"datum":367,"type":"quantitative","scale":{"domain":[270,6940],"range":[471,285.7],"nice":false,"zero":false},"axis":null},"y2":{"datum":6306}}},
{"data":{"name":"one"},"mark":{"type":"rule","stroke":"#4d4d4d","strokeWidth":1.8},"encoding":{
 "x":{"datum":919,"type":"quantitative","scale":{"domain":[-1420,30050],"range":[486,813],"nice":false,"zero":false},"axis":null},"x2":{"datum":13497},
 "y":{"datum":583,"type":"quantitative","scale":{"domain":[270,6940],"range":[471,285.7],"nice":false,"zero":false},"axis":null},"y2":{"datum":749}}},
{"data":{"name":"one"},"mark":{"type":"point","shape":"triangle-right","filled":true,"color":"#000000","opacity":1,"size":45},"encoding":{
 "x":{"datum":13112,"type":"quantitative","scale":{"domain":[-1420,30050],"range":[486,813],"nice":false,"zero":false},"axis":null},
 "y":{"datum":744,"type":"quantitative","scale":{"domain":[270,6940],"range":[471,285.7],"nice":false,"zero":false},"axis":null}}},
{"data":{"name":"one"},"mark":{"type":"text","text":"×10³","align":"left","baseline":"bottom","dy":-1,"font":"Liberation Serif, DejaVu Serif","fontSize":10.5},"encoding":{
 "x":{"datum":-1420,"type":"quantitative","scale":{"domain":[-1420,30050],"range":[486,813],"nice":false,"zero":false},"axis":null},
 "y":{"datum":6940,"type":"quantitative","scale":{"domain":[270,6940],"range":[471,285.7],"nice":false,"zero":false},"axis":null}}},
{"data":{"name":"one"},"mark":{"type":"text","text":"(e) Revenue Maximization","align":"center","baseline":"alphabetic","dy":54,"font":"Liberation Serif","fontSize":23.5},"encoding":{
 "x":{"datum":13690,"type":"quantitative","scale":{"domain":[-1420,30050],"range":[486,813],"nice":false,"zero":false},"axis":null},
 "y":{"datum":270,"type":"quantitative","scale":{"domain":[270,6940],"range":[471,285.7],"nice":false,"zero":false},"axis":null}}},

{"data":{"name":"one"},"mark":{"type":"rect","fill":"#ffffff","stroke":"#4d4d4d","strokeWidth":2},"encoding":{
 "x":{"datum":-54.74,"type":"quantitative","scale":{"domain":[-7.4,155.4],"range":[679.3,811],"nice":false,"zero":false},"axis":null},"x2":{"datum":167.76},
 "y":{"datum":-927,"type":"quantitative","scale":{"domain":[310,6200],"range":[435.3,302],"nice":false,"zero":false},"axis":null},"y2":{"datum":6584}}},
{"data":{"name":"e"},"transform":[{"filter":{"field":"x","lte":149}}],"mark":{"type":"line","strokeWidth":1.2},"encoding":{
 "x":{"field":"x","type":"quantitative","scale":{"domain":[-7.4,155.4],"range":[679.3,811],"nice":false,"zero":false},"axis":{"orient":"bottom","offset":-100.7,"values":[0,50,100,150],"format":"d","title":"Adaptive Steps","labelFontSize":6.5,"titleFontSize":6.5,"tickSize":2,"labelPadding":1.5,"titlePadding":1,"zindex":1}},
 "y":{"field":"y","type":"quantitative","scale":{"domain":[310,6200],"range":[435.3,302],"nice":false,"zero":false},"axis":{"orient":"left","offset":-679.3,"values":[1000,2000,3000,4000,5000,6000],"format":"d","title":"Objective Function","labelFontSize":6.5,"titleFontSize":6.5,"tickSize":2,"labelPadding":1.5,"titlePadding":4,"zindex":1}},
 "color":{"field":"series","type":"nominal","scale":{"domain":["Fantom","SampleGreedy","PᴀʀKɴᴀᴘsᴀᴄᴋ","Greedy"],"range":["#1f77b4","#d62728","#ff7f0e","#2ca02c"]},"legend":null}}},
{"data":{"name":"one"},"mark":{"type":"rect","filled":false,"stroke":"#222222","strokeWidth":1},"encoding":{
 "x":{"datum":-7.4,"type":"quantitative","scale":{"domain":[-7.4,155.4],"range":[679.3,811],"nice":false,"zero":false},"axis":null},"x2":{"datum":155.4},
 "y":{"datum":310,"type":"quantitative","scale":{"domain":[310,6200],"range":[435.3,302],"nice":false,"zero":false},"axis":null},"y2":{"datum":6200}}},

{"data":{"name":"f"},"mark":{"type":"line","strokeWidth":1.3},"encoding":{
 "x":{"field":"x","type":"quantitative","scale":{"domain":[-432,8660],"range":[948.3,1279],"nice":false,"zero":false},"axis":{"orient":"bottom","offset":-65,"values":[0,2000,4000,6000,8000],"format":"d","title":"Adaptive Steps"}},
 "y":{"field":"y","type":"quantitative","scale":{"domain":[-560,12920],"range":[471,285.7],"nice":false,"zero":false},"axis":{"orient":"left","offset":-948.3,"values":[0,2000,4000,6000,8000,10000,12000],"labelExpr":"format(datum.value/1e4,'.1f')","title":"Objective Function","titlePadding":5}},
 "color":{"field":"series","type":"nominal","scale":{"domain":["Fantom","SampleGreedy","PᴀʀKɴᴀᴘsᴀᴄᴋ","Greedy"],"range":["#1f77b4","#d62728","#ff7f0e","#2ca02c"]},"legend":{"orient":"none","legendX":985.3,"legendY":381.7,"title":null,"direction":"vertical","symbolType":"M-2.3,0H2.3","zindex":1,"encode":{"labels":{"update":{"font":{"signal":"datum.label === 'PᴀʀKɴᴀᴘsᴀᴄᴋ' ? 'Liberation Serif, DejaVu Serif' : 'Liberation Sans, DejaVu Sans'"}}}}}}}},
{"data":{"name":"one"},"mark":{"type":"rect","filled":false,"stroke":"#222222","strokeWidth":1},"encoding":{
 "x":{"datum":-432,"type":"quantitative","scale":{"domain":[-432,8660],"range":[948.3,1279],"nice":false,"zero":false},"axis":null},"x2":{"datum":8660},
 "y":{"datum":-560,"type":"quantitative","scale":{"domain":[-560,12920],"range":[471,285.7],"nice":false,"zero":false},"axis":null},"y2":{"datum":12920}}},
{"data":{"name":"one"},"mark":{"type":"rect","filled":false,"stroke":"#4d4d4d","strokeWidth":1.8},"encoding":{
 "x":{"datum":-267,"type":"quantitative","scale":{"domain":[-432,8660],"range":[948.3,1279],"nice":false,"zero":false},"axis":null},"x2":{"datum":302},
 "y":{"datum":-291,"type":"quantitative","scale":{"domain":[-560,12920],"range":[471,285.7],"nice":false,"zero":false},"axis":null},"y2":{"datum":11007}}},
{"data":{"name":"one"},"mark":{"type":"rule","stroke":"#4d4d4d","strokeWidth":1.8},"encoding":{
 "x":{"datum":302,"type":"quantitative","scale":{"domain":[-432,8660],"range":[948.3,1279],"nice":false,"zero":false},"axis":null},"x2":{"datum":4088},
 "y":{"datum":364,"type":"quantitative","scale":{"domain":[-560,12920],"range":[471,285.7],"nice":false,"zero":false},"axis":null},"y2":{"datum":677}}},
{"data":{"name":"one"},"mark":{"type":"point","shape":"triangle-right","filled":true,"color":"#000000","opacity":1,"size":45},"encoding":{
 "x":{"datum":3978,"type":"quantitative","scale":{"domain":[-432,8660],"range":[948.3,1279],"nice":false,"zero":false},"axis":null},
 "y":{"datum":668,"type":"quantitative","scale":{"domain":[-560,12920],"range":[471,285.7],"nice":false,"zero":false},"axis":null}}},
{"data":{"name":"one"},"mark":{"type":"text","text":"×10⁴","align":"left","baseline":"bottom","dy":-1,"font":"Liberation Serif, DejaVu Serif","fontSize":10.5},"encoding":{
 "x":{"datum":-432,"type":"quantitative","scale":{"domain":[-432,8660],"range":[948.3,1279],"nice":false,"zero":false},"axis":null},
 "y":{"datum":12920,"type":"quantitative","scale":{"domain":[-560,12920],"range":[471,285.7],"nice":false,"zero":false},"axis":null}}},
{"data":{"name":"one"},"mark":{"type":"text","text":"(f) Graph Cut on 𝐺(𝑛, 0.1)","align":"center","baseline":"alphabetic","dy":54,"font":"Liberation Serif, DejaVu Serif","fontSize":23.5},"encoding":{
 "x":{"datum":3629,"type":"quantitative","scale":{"domain":[-432,8660],"range":[948.3,1279],"nice":false,"zero":false},"axis":null},
 "y":{"datum":-560,"type":"quantitative","scale":{"domain":[-560,12920],"range":[471,285.7],"nice":false,"zero":false},"axis":null}}},

{"data":{"name":"one"},"mark":{"type":"rect","fill":"#ffffff","stroke":"#4d4d4d","strokeWidth":2},"encoding":{
 "x":{"datum":-23.77,"type":"quantitative","scale":{"domain":[-2.85,59.85],"range":[1153.3,1275],"nice":false,"zero":false},"axis":null},"x2":{"datum":61.55},
 "y":{"datum":-2864,"type":"quantitative","scale":{"domain":[-522,10972],"range":[436.7,302.7],"nice":false,"zero":false},"axis":null},"y2":{"datum":11718}}},
{"data":{"name":"f"},"transform":[{"filter":{"field":"x","lte":57}}],"mark":{"type":"line","strokeWidth":1.2},"encoding":{
 "x":{"field":"x","type":"quantitative","scale":{"domain":[-2.85,59.85],"range":[1153.3,1275],"nice":false,"zero":false},"axis":{"orient":"bottom","offset":-99.3,"values":[0,20,40],"format":"d","title":"Adaptive Steps","labelFontSize":6.5,"titleFontSize":6.5,"tickSize":2,"labelPadding":1.5,"titlePadding":1,"zindex":1}},
 "y":{"field":"y","type":"quantitative","scale":{"domain":[-522,10972],"range":[436.7,302.7],"nice":false,"zero":false},"axis":{"orient":"left","offset":-1153.3,"values":[0,2000,4000,6000,8000,10000],"format":"d","title":"Objective Function","labelFontSize":6.5,"titleFontSize":6.5,"tickSize":2,"labelPadding":1.5,"titlePadding":4,"zindex":1}},
 "color":{"field":"series","type":"nominal","scale":{"domain":["Fantom","SampleGreedy","PᴀʀKɴᴀᴘsᴀᴄᴋ","Greedy"],"range":["#1f77b4","#d62728","#ff7f0e","#2ca02c"]},"legend":null}}},
{"data":{"name":"one"},"mark":{"type":"rect","filled":false,"stroke":"#222222","strokeWidth":1},"encoding":{
 "x":{"datum":-2.85,"type":"quantitative","scale":{"domain":[-2.85,59.85],"range":[1153.3,1275],"nice":false,"zero":false},"axis":null},"x2":{"datum":59.85},
 "y":{"datum":-522,"type":"quantitative","scale":{"domain":[-522,10972],"range":[436.7,302.7],"nice":false,"zero":false},"axis":null},"y2":{"datum":10972}}}
],
"resolve":{"scale":{"x":"independent","y":"independent","color":"independent"},"axis":{"x":"independent","y":"independent"},"legend":{"color":"independent"}},
"config":{
 "view":{"stroke":null},
 "axis":{"grid":false,"domain":false,"labelFont":"Liberation Serif","labelFontSize":10.5,"labelColor":"#000000","titleFont":"Liberation Sans","titleFontSize":10.5,"titleFontWeight":"normal","titleColor":"#000000","tickColor":"#000000","tickWidth":0.8,"tickSize":3.5,"labelPadding":2,"titlePadding":2,"labelFlush":false,"labelOverlap":false,"labelBound":false},
 "legend":{"labelFont":"Liberation Sans, DejaVu Sans","labelFontSize":10.5,"labelColor":"#000000","padding":3,"rowPadding":3.5,"fillColor":"rgba(255,255,255,0.8)","strokeColor":"#cccccc","cornerRadius":2.5,"symbolSize":100,"symbolStrokeWidth":1.5,"symbolOffset":6.6,"labelOffset":21.3}
}
}
